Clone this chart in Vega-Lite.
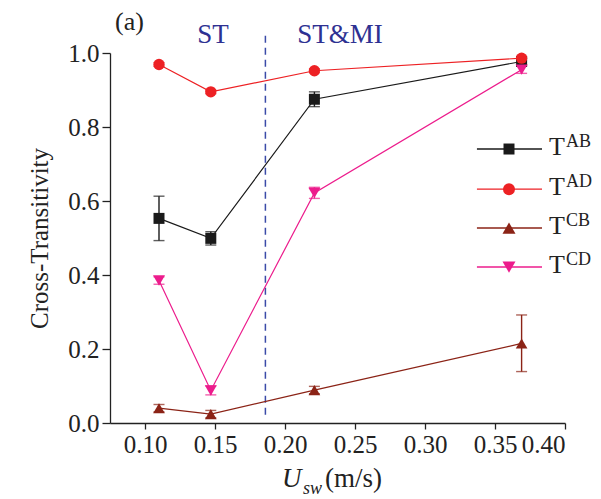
{
  "$schema": "https://vega.github.io/schema/vega-lite/v6.json",
  "width": 455,
  "height": 370,
  "autosize": "none",
  "padding": {"left": 110, "top": 53, "right": 36, "bottom": 76},
  "background": "white",
  "config": {
    "view": {"stroke": null},
    "font": "Liberation Serif",
    "axis": {
      "domainColor": "#222222",
      "domainWidth": 1.3,
      "tickColor": "#222222",
      "tickWidth": 1.3,
      "grid": false,
      "labelFont": "Liberation Serif",
      "labelColor": "#222222",
      "titleFont": "Liberation Serif",
      "titleColor": "#222222",
      "titleFontWeight": "normal"
    },
    "text": {"font": "Liberation Serif", "color": "#222222"}
  },
  "datasets": {
    "obs": [
      {"u": 0.110, "series": "AB", "t": 0.553, "lo": 0.493, "hi": 0.613},
      {"u": 0.147, "series": "AB", "t": 0.499, "lo": 0.481, "hi": 0.517},
      {"u": 0.221, "series": "AB", "t": 0.875, "lo": 0.855, "hi": 0.895},
      {"u": 0.369, "series": "AB", "t": 0.977, "lo": 0.967, "hi": 0.987},
      {"u": 0.110, "series": "AD", "t": 0.969, "lo": 0.964, "hi": 0.974},
      {"u": 0.147, "series": "AD", "t": 0.895, "lo": 0.890, "hi": 0.900},
      {"u": 0.221, "series": "AD", "t": 0.952, "lo": 0.947, "hi": 0.957},
      {"u": 0.369, "series": "AD", "t": 0.986, "lo": 0.981, "hi": 0.991},
      {"u": 0.110, "series": "CB", "t": 0.040, "lo": 0.030, "hi": 0.050},
      {"u": 0.147, "series": "CB", "t": 0.024, "lo": 0.014, "hi": 0.034},
      {"u": 0.221, "series": "CB", "t": 0.089, "lo": 0.079, "hi": 0.099},
      {"u": 0.369, "series": "CB", "t": 0.215, "lo": 0.139, "hi": 0.292},
      {"u": 0.110, "series": "CD", "t": 0.385, "lo": 0.375, "hi": 0.395},
      {"u": 0.147, "series": "CD", "t": 0.088, "lo": 0.076, "hi": 0.100},
      {"u": 0.221, "series": "CD", "t": 0.622, "lo": 0.607, "hi": 0.637},
      {"u": 0.369, "series": "CD", "t": 0.955, "lo": 0.945, "hi": 0.965}
    ]
  },
  "layer": [
    {
      "description": "Regime boundary between ST and ST&MI; this layer also defines both axes",
      "data": {"values": [{}]},
      "mark": {"type": "rule", "color": "#3b4ba8", "strokeWidth": 1.5, "strokeDash": [7, 5]},
      "encoding": {
        "x": {
          "datum": 0.186, "type": "quantitative",
          "scale": {"domain": [0.075, 0.40], "nice": false, "zero": false},
          "axis": {
            "orient": "bottom",
            "values": [0.10, 0.125, 0.15, 0.175, 0.20, 0.225, 0.25, 0.275, 0.30, 0.325, 0.35, 0.375, 0.40],
            "labelExpr": "abs(round(datum.value * 20) - datum.value * 20) < 0.001 ? format(datum.value, '.2f') : ''",
            "tickSize": {"condition": {"test": "abs(round(datum.value * 20) - datum.value * 20) < 0.001", "value": 6}, "value": 4},
            "labelFontSize": 25, "labelPadding": 3, "title": null
          }
        },
        "y": {
          "datum": 0.022, "type": "quantitative",
          "scale": {"domain": [0, 1], "nice": false, "zero": false},
          "axis": {
            "orient": "left",
            "values": [0, 0.1, 0.2, 0.3, 0.4, 0.5, 0.6, 0.7, 0.8, 0.9, 1.0],
            "labelExpr": "abs(round(datum.value * 5) - datum.value * 5) < 0.001 ? format(datum.value, '.1f') : ''",
            "tickSize": {"condition": {"test": "abs(round(datum.value * 5) - datum.value * 5) < 0.001", "value": 8}, "value": 4},
            "labelFontSize": 25, "labelPadding": 3,
            "title": "Cross-Transitivity", "titleFontSize": 25, "titlePadding": 15
          }
        },
        "y2": {"datum": 1.054}
      }
    },
    {
      "data": {"name": "obs"},
      "mark": {"type": "line", "strokeWidth": 1.2},
      "encoding": {
        "x": {"field": "u", "type": "quantitative", "title": null},
        "y": {"field": "t", "type": "quantitative", "title": "Cross-Transitivity"},
        "color": {
          "field": "series", "type": "nominal", "legend": null,
          "scale": {"domain": ["AB", "AD", "CB", "CD"], "range": ["#1a1a1a", "#ed2124", "#8b2316", "#ec1c8c"]}
        },
        "order": {"field": "u", "type": "quantitative"}
      }
    },
    {
      "data": {"name": "obs"},
      "mark": {"type": "errorbar", "ticks": true, "size": 11, "thickness": 1.4},
      "encoding": {
        "x": {"field": "u", "type": "quantitative", "title": null},
        "y": {"field": "lo", "type": "quantitative", "title": "Cross-Transitivity"},
        "y2": {"field": "hi"},
        "color": {"field": "series", "type": "nominal", "legend": null}
      }
    },
    {
      "data": {"name": "obs"},
      "mark": {"type": "point", "filled": true, "opacity": 1},
      "encoding": {
        "x": {"field": "u", "type": "quantitative", "title": null},
        "y": {"field": "t", "type": "quantitative", "title": "Cross-Transitivity"},
        "color": {"field": "series", "type": "nominal", "legend": null},
        "shape": {
          "field": "series", "type": "nominal", "legend": null,
          "scale": {"domain": ["AB", "AD", "CB", "CD"], "range": ["square", "circle", "triangle-up", "triangle-down"]}
        },
        "size": {
          "field": "series", "type": "ordinal", "legend": null,
          "scale": {"domain": ["AB", "AD", "CB", "CD"], "range": [121, 144, 169, 169]}
        }
      }
    },
    {
      "data": {"values": [{}]},
      "mark": {"type": "text", "text": "(a)", "fontSize": 26, "align": "left", "baseline": "alphabetic"},
      "encoding": {"x": {"datum": 0.0786, "type": "quantitative"}, "y": {"datum": 1.062, "type": "quantitative"}}
    },
    {
      "data": {"values": [{}]},
      "mark": {"type": "text", "text": "ST", "fontSize": 27, "align": "center", "baseline": "alphabetic", "color": "#2e3192"},
      "encoding": {"x": {"datum": 0.1486, "type": "quantitative"}, "y": {"datum": 1.027, "type": "quantitative"}}
    },
    {
      "data": {"values": [{}]},
      "mark": {"type": "text", "text": "ST&MI", "fontSize": 27, "align": "center", "baseline": "alphabetic", "color": "#2e3192"},
      "encoding": {"x": {"datum": 0.2393, "type": "quantitative"}, "y": {"datum": 1.027, "type": "quantitative"}}
    },
    {
      "data": {"values": [{}]},
      "mark": {"type": "text", "text": "U", "fontSize": 27, "fontStyle": "italic", "align": "left", "baseline": "alphabetic"},
      "encoding": {"x": {"datum": 0.1979, "type": "quantitative"}, "y": {"datum": -0.173, "type": "quantitative"}}
    },
    {
      "data": {"values": [{}]},
      "mark": {"type": "text", "text": "sw", "fontSize": 18, "fontStyle": "italic", "align": "left", "baseline": "alphabetic"},
      "encoding": {"x": {"datum": 0.2129, "type": "quantitative"}, "y": {"datum": -0.192, "type": "quantitative"}}
    },
    {
      "data": {"values": [{}]},
      "mark": {"type": "text", "text": "(m/s)", "fontSize": 27, "align": "left", "baseline": "alphabetic"},
      "encoding": {"x": {"datum": 0.2286, "type": "quantitative"}, "y": {"datum": -0.173, "type": "quantitative"}}
    },
    {
      "data": {"values": [{}]},
      "mark": {"type": "rule", "color": "#1a1a1a", "strokeWidth": 1.4},
      "encoding": {"x": {"datum": 0.3371, "type": "quantitative"}, "x2": {"datum": 0.3836}, "y": {"datum": 0.7405, "type": "quantitative"}}
    },
    {
      "data": {"values": [{}]},
      "mark": {"type": "point", "shape": "square", "filled": true, "opacity": 1, "size": 121, "color": "#1a1a1a"},
      "encoding": {"x": {"datum": 0.360, "type": "quantitative"}, "y": {"datum": 0.7405, "type": "quantitative"}}
    },
    {
      "data": {"values": [{}]},
      "mark": {"type": "text", "text": "T", "fontSize": 26, "align": "left", "baseline": "alphabetic", "dy": 6},
      "encoding": {"x": {"datum": 0.3886, "type": "quantitative"}, "y": {"datum": 0.7405, "type": "quantitative"}}
    },
    {
      "data": {"values": [{}]},
      "mark": {"type": "text", "text": "AB", "fontSize": 18, "align": "left", "baseline": "alphabetic", "dy": -2},
      "encoding": {"x": {"datum": 0.4007, "type": "quantitative"}, "y": {"datum": 0.7405, "type": "quantitative"}}
    },
    {
      "data": {"values": [{}]},
      "mark": {"type": "rule", "color": "#ed2124", "strokeWidth": 1.4},
      "encoding": {"x": {"datum": 0.3371, "type": "quantitative"}, "x2": {"datum": 0.3836}, "y": {"datum": 0.632, "type": "quantitative"}}
    },
    {
      "data": {"values": [{}]},
      "mark": {"type": "point", "shape": "circle", "filled": true, "opacity": 1, "size": 144, "color": "#ed2124"},
      "encoding": {"x": {"datum": 0.360, "type": "quantitative"}, "y": {"datum": 0.632, "type": "quantitative"}}
    },
    {
      "data": {"values": [{}]},
      "mark": {"type": "text", "text": "T", "fontSize": 26, "align": "left", "baseline": "alphabetic", "dy": 6},
      "encoding": {"x": {"datum": 0.3886, "type": "quantitative"}, "y": {"datum": 0.632, "type": "quantitative"}}
    },
    {
      "data": {"values": [{}]},
      "mark": {"type": "text", "text": "AD", "fontSize": 18, "align": "left", "baseline": "alphabetic", "dy": -2},
      "encoding": {"x": {"datum": 0.4007, "type": "quantitative"}, "y": {"datum": 0.632, "type": "quantitative"}}
    },
    {
      "data": {"values": [{}]},
      "mark": {"type": "rule", "color": "#8b2316", "strokeWidth": 1.4},
      "encoding": {"x": {"datum": 0.3371, "type": "quantitative"}, "x2": {"datum": 0.3836}, "y": {"datum": 0.527, "type": "quantitative"}}
    },
    {
      "data": {"values": [{}]},
      "mark": {"type": "point", "shape": "triangle-up", "filled": true, "opacity": 1, "size": 169, "color": "#8b2316"},
      "encoding": {"x": {"datum": 0.360, "type": "quantitative"}, "y": {"datum": 0.527, "type": "quantitative"}}
    },
    {
      "data": {"values": [{}]},
      "mark": {"type": "text", "text": "T", "fontSize": 26, "align": "left", "baseline": "alphabetic", "dy": 6},
      "encoding": {"x": {"datum": 0.3886, "type": "quantitative"}, "y": {"datum": 0.527, "type": "quantitative"}}
    },
    {
      "data": {"values": [{}]},
      "mark": {"type": "text", "text": "CB", "fontSize": 18, "align": "left", "baseline": "alphabetic", "dy": -2},
      "encoding": {"x": {"datum": 0.4007, "type": "quantitative"}, "y": {"datum": 0.527, "type": "quantitative"}}
    },
    {
      "data": {"values": [{}]},
      "mark": {"type": "rule", "color": "#ec1c8c", "strokeWidth": 1.4},
      "encoding": {"x": {"datum": 0.3371, "type": "quantitative"}, "x2": {"datum": 0.3836}, "y": {"datum": 0.4216, "type": "quantitative"}}
    },
    {
      "data": {"values": [{}]},
      "mark": {"type": "point", "shape": "triangle-down", "filled": true, "opacity": 1, "size": 169, "color": "#ec1c8c"},
      "encoding": {"x": {"datum": 0.360, "type": "quantitative"}, "y": {"datum": 0.4216, "type": "quantitative"}}
    },
    {
      "data": {"values": [{}]},
      "mark": {"type": "text", "text": "T", "fontSize": 26, "align": "left", "baseline": "alphabetic", "dy": 6},
      "encoding": {"x": {"datum": 0.3886, "type": "quantitative"}, "y": {"datum": 0.4216, "type": "quantitative"}}
    },
    {
      "data": {"values": [{}]},
      "mark": {"type": "text", "text": "CD", "fontSize": 18, "align": "left", "baseline": "alphabetic", "dy": -2},
      "encoding": {"x": {"datum": 0.4007, "type": "quantitative"}, "y": {"datum": 0.4216, "type": "quantitative"}}
    }
  ]
}
